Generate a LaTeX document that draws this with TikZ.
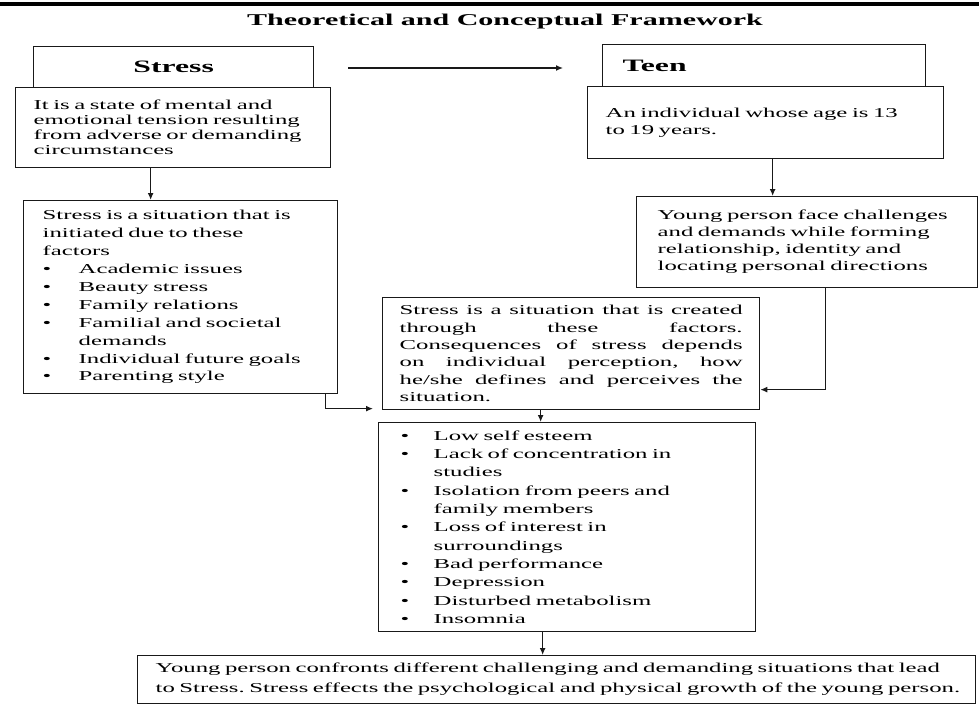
\documentclass[tikz,border=0pt]{standalone}
\usepackage{fontspec}
\setmainfont{Liberation Serif}[FakeStretch=1.82]
\usetikzlibrary{arrows.meta,calc}
\frenchspacing
\newcommand\Lx[1]{\mbox{#1}}
\newcommand\Bu[2][33pt]{\mbox{\makebox[#1][l]{•}#2}}
\newcommand\Bc[2][33pt]{\mbox{\hspace*{#1}#2}}
\newcommand\Js[1]{{\spaceskip=.3333em plus 1fil\xspaceskip=.3333em plus 1fil\relax\makebox[343pt][s]{#1}}}
\begin{document}
\begin{tikzpicture}[x=1pt,y=-1pt,
  box/.style={draw=black!90, line width=1.3pt, fill=white, anchor=north west,
    align=left, inner ysep=0pt},
  hdr/.style={draw=black!90, line width=1.3pt, fill=white, anchor=north west,
    font=\fontsize{17.4pt}{20pt}\selectfont\bfseries, inner sep=0pt},
  arr/.style={draw=black!90, line width=1.3pt, -{Latex[length=7pt,width=6pt]}}]
\useasboundingbox (0,0) rectangle (979,706);
\fill[white] (0,0) rectangle (979,706);
\fill[black] (0,2.5) rectangle (979,6.5);
\node[font=\fontsize{16.5pt}{18pt}\selectfont\bfseries, anchor=base, inner sep=0pt]
  (title) at (505,26) {Theoretical and Conceptual Framework};

% headers
\node[hdr, minimum width=280pt, minimum height=41pt] (sh) at (33,46) {Stress};
\node[hdr, minimum width=323pt, minimum height=42pt, text width=283pt,
  inner xsep=20pt, align=left] (th) at (602,44) {Teen};

% Stress side
\node[box, minimum width=315pt, minimum height=80pt, text width=279pt, inner xsep=18pt,
  font=\fontsize{13.6pt}{15pt}\selectfont] (sd) at (15,87)
  {\Lx{It is a state of mental and}\\
   \Lx{emotional tension resulting}\\
   \Lx{from adverse or demanding}\\
   \Lx{circumstances}};

\node[box, minimum width=314pt, minimum height=193pt, text width=276pt, inner xsep=19pt,
  font=\fontsize{13.6pt}{17.9pt}\selectfont] (sf) at (23,200)
  {\Lx{Stress is a situation that is}\\
   \Lx{initiated due to these}\\
   \Lx{factors}\\
   \Bu[36pt]{Academic issues}\\
   \Bu[36pt]{Beauty stress}\\
   \Bu[36pt]{Family relations}\\
   \Bu[36pt]{Familial and societal}\\
   \Bc[36pt]{demands}\\
   \Bu[36pt]{Individual future goals}\\
   \Bu[36pt]{Parenting style}};

% Teen side
\node[box, minimum width=356pt, minimum height=72pt, text width=320pt, inner xsep=18pt,
  font=\fontsize{13.6pt}{17pt}\selectfont] (td) at (587,86)
  {\Lx{An individual whose age is 13}\\
   \Lx{to 19 years.}};

\node[box, minimum width=341pt, minimum height=91pt, text width=299pt, inner xsep=21pt,
  font=\fontsize{13.6pt}{17pt}\selectfont] (ty) at (636,196)
  {\Lx{Young person face challenges}\\
   \Lx{and demands while forming}\\
   \Lx{relationship, identity and}\\
   \Lx{locating personal directions}};

% middle
\node[box, minimum width=377pt, minimum height=112pt, text width=343pt, inner xsep=17pt,
  font=\fontsize{13.6pt}{17.4pt}\selectfont] (sc) at (382,297)
  {\Js{Stress is a situation that is created}\\
   \Js{through these factors.}\\
   \Js{Consequences of stress depends}\\
   \Js{on individual perception, how}\\
   \Js{he/she defines and perceives the}\\
   \Lx{situation.}};

\node[box, minimum width=377pt, minimum height=209pt, text width=333pt, inner xsep=22pt,
  font=\fontsize{13.6pt}{18.3pt}\selectfont] (sb) at (378,422)
  {\Bu{Low self esteem}\\
   \Bu{Lack of concentration in}\\
   \Bc{studies}\\
   \Bu{Isolation from peers and}\\
   \Bc{family members}\\
   \Bu{Loss of interest in}\\
   \Bc{surroundings}\\
   \Bu{Bad performance}\\
   \Bu{Depression}\\
   \Bu{Disturbed metabolism}\\
   \Bu{Insomnia}};

\node[box, minimum width=838pt, minimum height=48pt, text width=802pt, inner xsep=18pt,
  font=\fontsize{13.6pt}{20pt}\selectfont] (yp) at (137,655)
  {\Lx{Young person confronts different challenging and demanding situations that lead}\\
   \Lx{to Stress. Stress effects the psychological and physical growth of the young person.}};

% connectors
\coordinate (a1) at (348,68);
\coordinate (a2) at (563,68);
\draw[arr] (a1) -- (a2);
\draw[arr] ([xshift=-22.5pt]sd.south) -- ([xshift=-22.5pt]sd.south |- sf.north);
\draw[arr] ([xshift=7pt]td.south) -- ([xshift=7pt]td.south |- ty.north);
\draw[arr] ([xshift=18.5pt]ty.south) |- ([yshift=-36pt]sc.east);
\draw[arr, shorten >=9pt] ([xshift=145pt]sf.south) |- ([yshift=-55pt]sc.west);
\draw[arr] ([xshift=-30.5pt]sc.south) -- ([xshift=-30.5pt]sc.south |- sb.north);
\draw[arr] ([xshift=-24.5pt]sb.south) -- ([xshift=-24.5pt]sb.south |- yp.north);
\end{tikzpicture}
\end{document}
